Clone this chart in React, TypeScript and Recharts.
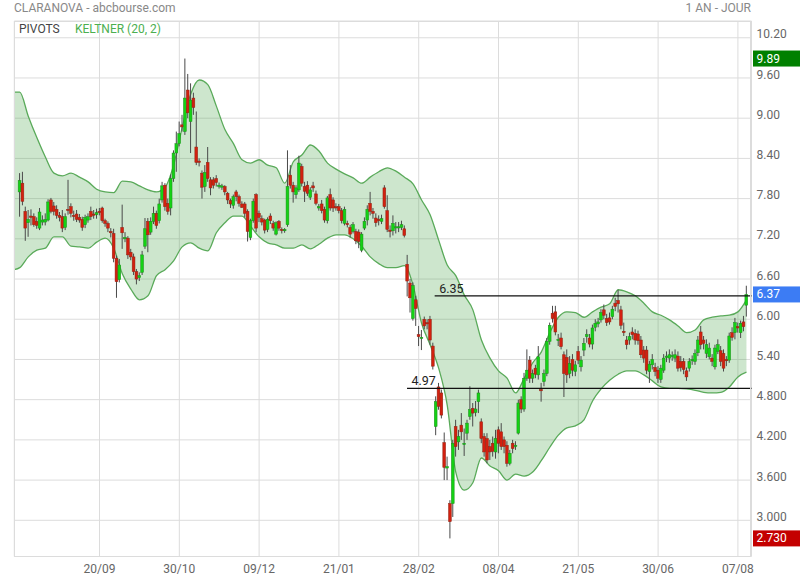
import React from 'react';
import { ComposedChart, Bar, Area, XAxis, YAxis, CartesianGrid, ReferenceLine } from 'recharts';

// daily candles, index 0 = first trading day of the year window
const opens = [
  7.90, 8.03, 7.61, 7.44, 7.54, 7.53, 7.46, 7.36, 7.45, 7.45,
  7.48, 7.78, 7.69, 7.64, 7.55, 7.53, 7.37, 7.64, 7.68, 7.55,
  7.57, 7.52, 7.49, 7.41, 7.48, 7.61, 7.57, 7.56, 7.61, 7.66,
  7.47, 7.43, 7.31, 7.28, 6.91, 6.59, 7.37, 7.20, 7.21, 7.00,
  6.93, 6.71, 6.62, 6.70, 7.09, 7.46, 7.30, 7.46, 7.58, 7.47,
  7.78, 8.00, 7.73, 7.66, 8.10, 8.48, 8.62, 8.90, 8.80, 9.42,
  8.95, 9.30, 8.57, 8.36, 8.18, 7.98, 8.34, 8.08, 8.08, 8.10,
  7.98, 7.97, 7.98, 7.88, 7.77, 7.70, 7.90, 7.83, 7.72, 7.72,
  7.61, 7.22, 7.47, 7.86, 7.58, 7.50, 7.48, 7.34, 7.54, 7.43,
  7.27, 7.46, 7.34, 7.32, 7.41, 8.15, 8.00, 7.86, 7.93, 8.28,
  7.98, 8.00, 7.82, 7.99, 7.87, 7.66, 7.72, 7.64, 7.47, 7.86,
  7.78, 7.68, 7.68, 7.62, 7.43, 7.43, 7.37, 7.31, 7.31, 7.30,
  7.03, 7.36, 7.48, 7.73, 7.61, 7.51, 7.49, 7.46, 7.96, 7.62,
  7.33, 7.32, 7.37, 7.37, 7.37, 7.35, 6.82, 6.54, 6.01, 6.29,
  5.77, 5.72, 6.00, 5.95, 6.00, 5.60, 4.40, 4.99, 4.90, 4.16,
  3.78, 3.25, 3.25, 4.40, 4.17, 4.42, 4.13, 4.30, 4.55, 4.67,
  4.61, 4.77, 4.47, 4.25, 4.22, 4.10, 4.15, 4.02, 4.35, 4.32,
  4.20, 4.12, 3.85, 4.15, 4.10, 4.30, 4.80, 4.66, 5.12, 5.39,
  5.12, 5.27, 5.17, 4.95, 5.07, 5.19, 5.67, 6.09, 6.11, 5.68,
  5.72, 5.47, 5.43, 5.19, 5.40, 5.22, 5.52, 5.29, 5.54, 5.74,
  5.72, 5.63, 5.88, 5.93, 5.99, 6.14, 6.01, 6.02, 6.04, 6.24,
  6.28, 6.14, 5.82, 5.69, 5.69, 5.81, 5.79, 5.78, 5.69, 5.54,
  5.54, 5.22, 5.32, 5.28, 5.24, 5.10, 5.24, 5.43, 5.42, 5.45,
  5.42, 5.45, 5.37, 5.37, 5.23, 5.27, 5.38, 5.37, 5.50, 5.81,
  5.69, 5.49, 5.44, 5.42, 5.29, 5.52, 5.53, 5.49, 5.40, 5.39,
  5.80, 5.80, 5.89, 5.80, 5.96, 6.21,
];
const highs = [
  8.18, 8.20, 7.68, 7.63, 7.64, 7.58, 7.52, 7.66, 7.55, 7.58,
  7.79, 7.81, 7.75, 7.70, 7.60, 7.63, 7.58, 8.08, 7.73, 7.62,
  7.63, 7.57, 7.53, 7.56, 7.58, 7.68, 7.63, 7.65, 7.66, 7.68,
  7.50, 7.46, 7.36, 7.35, 6.95, 6.90, 7.71, 7.30, 7.24, 7.05,
  6.98, 6.75, 6.70, 7.02, 7.51, 7.51, 7.52, 7.68, 7.62, 7.80,
  8.05, 8.03, 7.80, 8.16, 8.52, 8.80, 8.95, 9.05, 9.89, 9.66,
  9.52, 9.38, 9.10, 8.40, 8.22, 8.30, 8.57, 8.12, 8.12, 8.15,
  8.04, 8.02, 8.00, 7.90, 7.80, 7.86, 7.93, 7.86, 7.76, 7.75,
  7.64, 7.50, 7.80, 7.88, 7.62, 7.55, 7.50, 7.52, 7.58, 7.47,
  7.46, 7.48, 7.37, 7.36, 8.52, 8.30, 8.05, 8.00, 8.44, 8.32,
  8.05, 8.06, 7.97, 8.05, 7.92, 7.72, 7.78, 7.68, 7.84, 7.95,
  7.82, 7.73, 7.72, 7.66, 7.68, 7.47, 7.41, 7.45, 7.35, 7.34,
  7.30, 7.52, 7.70, 7.90, 7.66, 7.58, 7.55, 7.56, 8.00, 7.85,
  7.40, 7.55, 7.45, 7.45, 7.47, 7.40, 6.96, 6.60, 6.55, 6.35,
  5.90, 5.84, 6.04, 6.00, 6.05, 5.65, 4.85, 5.05, 4.95, 4.31,
  3.95, 3.30, 4.20, 4.50, 4.35, 4.60, 4.37, 4.50, 5.00, 4.75,
  4.78, 4.95, 4.52, 4.30, 4.30, 4.20, 4.25, 4.35, 4.40, 4.45,
  4.25, 4.18, 4.05, 4.20, 4.18, 4.80, 4.85, 5.20, 5.55, 5.45,
  5.25, 5.32, 5.60, 5.05, 5.25, 5.72, 5.95, 6.20, 6.20, 5.78,
  5.80, 5.52, 5.55, 5.45, 5.48, 5.38, 5.60, 5.45, 5.72, 5.85,
  5.78, 5.92, 6.00, 6.02, 6.15, 6.22, 6.08, 6.10, 6.20, 6.32,
  6.44, 6.20, 5.95, 5.75, 5.80, 5.88, 5.85, 5.83, 5.75, 5.60,
  5.60, 5.38, 5.48, 5.35, 5.30, 5.32, 5.48, 5.52, 5.55, 5.52,
  5.55, 5.52, 5.45, 5.42, 5.28, 5.42, 5.46, 5.55, 5.75, 5.90,
  5.75, 5.70, 5.65, 5.48, 5.62, 5.70, 5.60, 5.55, 5.45, 5.80,
  5.88, 6.02, 5.95, 5.98, 6.05, 6.50,
];
const lows = [
  7.53, 7.70, 7.17, 7.23, 7.40, 7.38, 7.35, 7.33, 7.40, 7.40,
  7.46, 7.58, 7.55, 7.50, 7.46, 7.30, 7.33, 7.56, 7.52, 7.47,
  7.45, 7.44, 7.32, 7.36, 7.44, 7.48, 7.50, 7.50, 7.55, 7.44,
  7.38, 7.30, 7.22, 6.85, 6.32, 6.55, 7.05, 7.15, 6.90, 6.88,
  6.66, 6.52, 6.57, 6.66, 7.05, 7.00, 7.26, 7.42, 7.35, 7.43,
  7.74, 7.62, 7.56, 7.55, 8.05, 8.20, 8.58, 8.80, 8.75, 9.00,
  8.48, 9.05, 8.30, 8.28, 7.80, 7.90, 8.05, 7.85, 7.95, 7.98,
  7.95, 7.93, 7.85, 7.72, 7.66, 7.65, 7.76, 7.68, 7.66, 7.52,
  7.16, 7.18, 7.44, 7.30, 7.45, 7.40, 7.28, 7.30, 7.42, 7.32,
  7.25, 7.32, 7.28, 7.29, 7.38, 7.95, 7.74, 7.80, 7.90, 7.98,
  7.75, 7.84, 7.78, 7.90, 7.70, 7.62, 7.58, 7.44, 7.43, 7.62,
  7.60, 7.62, 7.58, 7.43, 7.40, 7.37, 7.22, 7.28, 7.12, 7.06,
  7.00, 7.33, 7.40, 7.55, 7.50, 7.38, 7.40, 7.42, 7.65, 7.30,
  7.22, 7.25, 7.28, 7.30, 7.33, 7.22, 6.34, 6.10, 5.98, 5.90,
  5.60, 5.54, 5.85, 5.85, 5.62, 5.25, 4.27, 4.65, 4.52, 3.60,
  3.60, 2.73, 3.05, 3.95, 4.05, 4.20, 3.96, 4.20, 4.50, 4.40,
  4.55, 4.60, 4.15, 3.95, 3.85, 3.90, 3.95, 3.92, 4.00, 4.05,
  4.00, 3.80, 3.82, 4.00, 4.05, 4.28, 4.60, 4.62, 5.08, 5.05,
  5.05, 5.12, 5.10, 4.77, 5.00, 5.15, 5.62, 5.95, 5.76, 5.60,
  5.55, 4.84, 5.05, 5.12, 5.15, 5.15, 5.33, 5.22, 5.45, 5.65,
  5.58, 5.55, 5.82, 5.88, 5.95, 6.00, 5.90, 5.92, 6.00, 6.12,
  6.10, 5.85, 5.75, 5.55, 5.62, 5.70, 5.62, 5.62, 5.42, 5.35,
  5.18, 5.05, 5.25, 5.15, 5.05, 5.05, 5.20, 5.36, 5.35, 5.38,
  5.36, 5.22, 5.22, 5.18, 5.08, 5.22, 5.32, 5.32, 5.45, 5.55,
  5.55, 5.42, 5.40, 5.30, 5.25, 5.48, 5.30, 5.22, 5.30, 5.35,
  5.68, 5.70, 5.80, 5.72, 5.82, 6.04,
];
const closes = [
  8.07, 7.76, 7.36, 7.49, 7.52, 7.41, 7.40, 7.60, 7.48, 7.49,
  7.75, 7.61, 7.61, 7.55, 7.52, 7.36, 7.53, 7.63, 7.58, 7.54,
  7.49, 7.48, 7.37, 7.52, 7.53, 7.53, 7.56, 7.59, 7.60, 7.47,
  7.43, 7.36, 7.29, 6.91, 6.56, 6.81, 7.29, 7.22, 6.96, 6.93,
  6.71, 6.60, 6.65, 6.96, 7.35, 7.26, 7.46, 7.58, 7.40, 7.72,
  7.99, 7.68, 7.61, 8.10, 8.48, 8.62, 8.77, 8.87, 9.30, 9.08,
  9.27, 9.16, 8.34, 8.34, 7.97, 8.19, 8.10, 7.96, 8.00, 8.04,
  8.00, 7.99, 7.90, 7.78, 7.72, 7.83, 7.83, 7.73, 7.67, 7.58,
  7.31, 7.47, 7.76, 7.36, 7.52, 7.45, 7.33, 7.49, 7.47, 7.36,
  7.44, 7.36, 7.33, 7.34, 7.98, 8.00, 7.90, 7.96, 8.33, 8.03,
  7.91, 7.88, 7.93, 7.96, 7.73, 7.68, 7.62, 7.48, 7.81, 7.66,
  7.66, 7.66, 7.62, 7.47, 7.64, 7.41, 7.27, 7.41, 7.17, 7.16,
  7.27, 7.46, 7.64, 7.61, 7.58, 7.44, 7.47, 7.50, 7.68, 7.34,
  7.31, 7.43, 7.38, 7.38, 7.41, 7.25, 6.57, 6.32, 6.50, 6.16,
  5.74, 5.73, 5.90, 5.93, 5.69, 5.30, 4.77, 4.70, 4.57, 3.79,
  3.80, 2.98, 4.15, 4.10, 4.25, 4.32, 4.15, 4.45, 4.65, 4.60,
  4.66, 4.90, 4.22, 4.02, 3.90, 4.02, 4.03, 4.22, 4.15, 4.10,
  4.10, 3.85, 4.00, 4.07, 4.12, 4.75, 4.66, 5.12, 5.24, 5.12,
  5.19, 5.18, 5.44, 4.94, 5.19, 5.67, 5.91, 6.01, 5.81, 5.70,
  5.59, 5.19, 5.17, 5.34, 5.24, 5.32, 5.39, 5.39, 5.64, 5.77,
  5.63, 5.87, 5.94, 5.96, 6.10, 6.06, 5.95, 5.96, 6.15, 6.19,
  6.23, 5.91, 5.80, 5.62, 5.74, 5.77, 5.69, 5.68, 5.47, 5.42,
  5.24, 5.33, 5.40, 5.22, 5.12, 5.27, 5.42, 5.45, 5.47, 5.46,
  5.47, 5.27, 5.28, 5.25, 5.14, 5.37, 5.40, 5.49, 5.69, 5.62,
  5.64, 5.62, 5.57, 5.37, 5.57, 5.62, 5.37, 5.27, 5.38, 5.75,
  5.73, 5.95, 5.87, 5.94, 5.89, 6.37,
];

// Keltner (20, 2) envelope, read every 3 sessions
const bandIdx = [-1.9, ...Array.from({ length: 86 }, (_, k) => k * 3)];
const bandUpper = [
  9.39, 9.39, 9.03, 8.71, 8.42, 8.18, 8.14, 8.18, 8.12, 8.05,
  7.94, 7.90, 7.89, 8.06, 8.05, 7.99, 7.93, 7.90, 7.97, 8.30,
  8.86, 9.36, 9.57, 9.50, 9.18, 8.83, 8.62, 8.38, 8.33, 8.38,
  8.30, 8.26, 8.03, 8.35, 8.45, 8.60, 8.51, 8.33, 8.24, 8.17,
  8.11, 8.03, 8.12, 8.20, 8.26, 8.21, 8.12, 8.02, 7.78, 7.56,
  7.18, 6.81, 6.65, 6.36, 6.14, 5.69, 5.42, 5.23, 5.12, 4.90,
  5.12, 5.35, 5.51, 5.80, 6.03, 6.11, 6.10, 6.03, 6.11, 6.18,
  6.23, 6.44, 6.41, 6.35, 6.24, 6.11, 6.06, 5.99, 5.90, 5.80,
  5.84, 5.99, 6.03, 6.05, 6.06, 6.11, 6.29,
];
const bandLower = [
  6.74, 6.77, 6.93, 7.03, 7.06, 7.23, 7.23, 7.09, 7.08, 7.06,
  7.15, 7.21, 7.06, 6.68, 6.45, 6.29, 6.35, 6.65, 6.74, 6.87,
  7.08, 7.14, 7.06, 7.02, 7.29, 7.44, 7.54, 7.54, 7.39, 7.23,
  7.14, 7.11, 7.06, 7.06, 7.11, 7.05, 7.12, 7.21, 7.26, 7.26,
  7.20, 7.09, 6.93, 6.83, 6.77, 6.77, 6.80, 6.51, 5.94, 5.62,
  5.27, 4.72, 3.72, 3.45, 3.56, 3.93, 3.81, 3.74, 3.60, 3.69,
  3.66, 3.72, 3.89, 4.09, 4.27, 4.38, 4.41, 4.50, 4.78, 4.96,
  5.09, 5.18, 5.23, 5.23, 5.17, 5.08, 4.99, 4.97, 4.97, 4.96,
  4.94, 4.91, 4.90, 4.91, 4.99, 5.14, 5.21,
];

const pivotLevels = [6.35, 4.97];
const pivotFrom = [145.6, 135.9];

const dateTicks = [28, 56, 84, 112, 140, 168, 196, 224, 252];
const dateLabels = ['20/09', '30/10', '09/12', '21/01', '28/02', '08/04', '21/05', '30/06', '07/08'];
const priceTicks = [3.0, 3.6, 4.2, 4.8, 5.4, 6.0, 6.6, 7.2, 7.8, 8.4, 9.0, 9.6, 10.2];

const X_DOMAIN: [number, number] = [-1.9, 256.77];
const Y_DOMAIN: [number, number] = [2.46, 10.45];
const FONT = 'Roboto, "Noto Sans", sans-serif';

const candles = opens.map((o, i) => ({ i, o, h: highs[i], l: lows[i], c: closes[i] }));
const band = bandIdx.map((i, k) => ({ i, up: bandUpper[k], lo: bandLower[k] }));

const maxHigh = Math.max(...highs);
const minLow = Math.min(...lows);
const lastClose = closes[closes.length - 1];

const fmt = (v: number) => (v < 5 ? v.toFixed(3) : v.toFixed(2));

const Candle = (props: any) => {
  const { x, y, width, height, payload } = props;
  if (!payload || !height) return null;
  const { o, h, l, c } = payload;
  const cx = x + width / 2;
  const k = height / (h - l);
  const yo = y + (h - o) * k;
  const yc = y + (h - c) * k;
  const up = c >= o;
  const top = Math.min(yo, yc);
  const bh = Math.max(Math.abs(yc - yo), 1.2);
  return (
    <g>
      <line x1={cx} x2={cx} y1={y} y2={y + height} stroke="#4a4a4a" strokeWidth={1} />
      <rect
        x={cx - 1.4}
        y={top}
        width={2.8}
        height={bh}
        fill={up ? '#14d214' : '#d3200f'}
        stroke={up ? '#1c8c1c' : '#8e2414'}
        strokeWidth={0.5}
      />
    </g>
  );
};

const PriceTick = ({ x, y, payload }: any) => (
  <text x={x} y={y - 3.4} textAnchor="start" dominantBaseline="central" fontSize={12} fill="#666" fontFamily={FONT}>
    {fmt(payload.value)}
  </text>
);

const priceTag = (color: string, text: string) => (props: any) => {
  const vb = props.viewBox;
  if (!vb) return null;
  const x = vb.x + vb.width + 1.5;
  return (
    <g>
      <rect x={x} y={vb.y - 8} width={800 - x} height={16} fill={color} />
      <text x={x + 3.5} y={vb.y} dominantBaseline="central" fill="#fff" fontSize={12} fontFamily={FONT}>
        {text}
      </text>
    </g>
  );
};

const pivotLabel = (text: string) => (props: any) => {
  const vb = props.viewBox;
  if (!vb) return null;
  return (
    <text x={vb.x + 4.5} y={vb.y - 3} fontSize={12.5} fill="#222" fontFamily={FONT}>
      {text}
    </text>
  );
};

export default function App() {
  return (
    <div style={{ position: 'absolute', left: 0, top: 0, width: 800, height: 580, background: '#fff', fontFamily: FONT }}>
      <ComposedChart width={800} height={580} data={candles} margin={{ top: 21, right: 0, bottom: 0, left: 14.3 }}>
        <CartesianGrid stroke="#dcdcdc" />
        <XAxis
          type="number"
          dataKey="i"
          domain={X_DOMAIN}
          allowDataOverflow
          ticks={dateTicks}
          interval={0}
          tickFormatter={(v: number) => dateLabels[dateTicks.indexOf(v)]}
          axisLine={false}
          tickLine={false}
          height={23.5}
          tick={{ fontSize: 12, fill: '#666', fontFamily: FONT }}
        />
        <YAxis
          orientation="right"
          type="number"
          domain={Y_DOMAIN}
          allowDataOverflow
          ticks={priceTicks}
          interval={0}
          width={48.5}
          axisLine={false}
          tickLine={false}
          tickSize={4}
          tickMargin={1}
          tick={<PriceTick />}
        />
        <Area
          data={band}
          dataKey={(d: any) => [d.lo, d.up]}
          type="monotone"
          stroke="#5aaa5a"
          strokeWidth={1.3}
          fill="#3d9e3d"
          fillOpacity={0.26}
          dot={false}
          activeDot={false}
          isAnimationActive={false}
        />
        <Bar
          dataKey={(d: any) => [d.l, d.h]}
          barSize={3}
          shape={(p: any) => <Candle {...p} />}
          isAnimationActive={false}
        />
        {pivotLevels.map((v, k) => (
          <ReferenceLine
            key={'p' + k}
            segment={[{ x: pivotFrom[k], y: v }, { x: X_DOMAIN[1], y: v }]}
            stroke="#111"
            strokeWidth={1.2}
            label={pivotLabel(v.toFixed(2))}
          />
        ))}
        <ReferenceLine y={maxHigh} stroke="none" ifOverflow="visible" label={priceTag('#008000', fmt(maxHigh))} />
        <ReferenceLine y={lastClose} stroke="none" ifOverflow="visible" label={priceTag('#3c7cf4', fmt(lastClose))} />
        <ReferenceLine y={minLow} stroke="none" ifOverflow="visible" label={priceTag('#c40000', fmt(minLow))} />
      </ComposedChart>
      <div
        style={{
          position: 'absolute', left: 14, top: 21, width: 737, height: 535.5,
          border: '1px solid #dcdcdc', boxSizing: 'border-box', pointerEvents: 'none',
        }}
      />
      <div style={{ position: 'absolute', left: 14, top: 1, fontSize: 12, lineHeight: '15px', color: '#888' }}>
        CLARANOVA - abcbourse.com
      </div>
      <div style={{ position: 'absolute', right: 49, top: 1, fontSize: 12, lineHeight: '15px', color: '#888' }}>
        1 AN - JOUR
      </div>
      <div style={{ position: 'absolute', left: 19, top: 22, fontSize: 12, lineHeight: '14px', color: '#444' }}>
        PIVOTS
      </div>
      <div style={{ position: 'absolute', left: 75, top: 22, fontSize: 12, lineHeight: '14px', color: '#4caf50' }}>
        KELTNER (20, 2)
      </div>
    </div>
  );
}
